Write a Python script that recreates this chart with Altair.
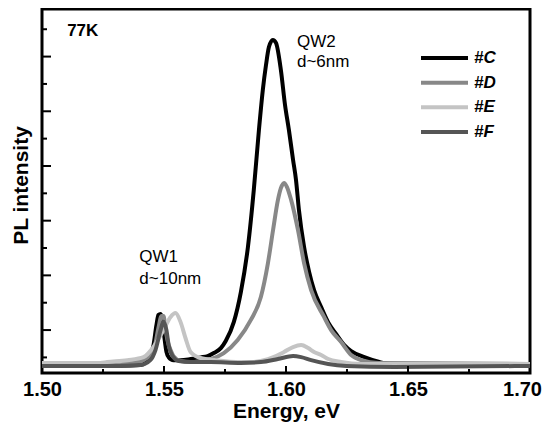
import altair as alt
import pandas as pd

samples = ["#C", "#D", "#E", "#F"]
colors = ["#000000", "#888888", "#c4c4c4", "#555555"]

c_energy = [1.5000, 1.5239, 1.5362, 1.5403, 1.5428, 1.5444, 1.5457, 1.5469, 1.5477, 1.5486,
            1.5494, 1.5502, 1.5510, 1.5519, 1.5539, 1.5568, 1.5609, 1.5650, 1.5679, 1.5704,
            1.5733, 1.5753, 1.5786, 1.5815, 1.5844, 1.5868, 1.5889, 1.5905, 1.5918, 1.5930,
            1.5946, 1.5959, 1.5979, 1.5996, 1.6012, 1.6029, 1.6041, 1.6053, 1.6074, 1.6095,
            1.6115, 1.6144, 1.6173, 1.6206, 1.6239, 1.6267, 1.6321, 1.6383, 1.6453, 1.7000]
c_int = [-0.31, -0.31, -0.30, -0.28, -0.17, 0.05, 0.45, 1.18, 1.55, 1.59,
         1.37, 0.71, 0.20, 0.01, -0.10, -0.10, -0.06, 0.00, 0.05, 0.16,
         0.34, 0.60, 1.29, 2.39, 4.04, 6.12, 8.31, 9.78, 10.69, 11.35,
         11.61, 11.50, 10.51, 9.23, 8.31, 7.22, 6.49, 5.39, 4.04, 3.12,
         2.46, 1.84, 1.28, 0.85, 0.45, 0.23, 0.01, -0.17, -0.28, -0.31]

d_energy = [1.5000, 1.5239, 1.5362, 1.5416, 1.5444, 1.5465, 1.5477, 1.5490, 1.5498, 1.5506,
            1.5514, 1.5527, 1.5539, 1.5568, 1.5609, 1.5650, 1.5691, 1.5745, 1.5802, 1.5856,
            1.5897, 1.5926, 1.5947, 1.5967, 1.5979, 1.5992, 1.6004, 1.6021, 1.6049, 1.6074,
            1.6103, 1.6156, 1.6185, 1.6226, 1.6267, 1.6309, 1.6379, 1.7000]
d_int = [-0.24, -0.24, -0.20, -0.10, 0.09, 0.53, 1.07, 1.51, 1.51, 1.07,
         0.64, 0.27, 0.05, -0.13, -0.17, -0.13, -0.06, 0.16, 0.64, 1.37,
         2.21, 3.45, 4.66, 5.76, 6.19, 6.38, 6.23, 5.76, 4.66, 3.45,
         2.46, 1.48, 1.00, 0.56, 0.09, -0.10, -0.20, -0.24]

e_energy = [1.5000, 1.5239, 1.5267, 1.5350, 1.5416, 1.5457, 1.5498, 1.5527, 1.5547, 1.5568,
            1.5588, 1.5609, 1.5650, 1.5712, 1.5815, 1.5856, 1.5926, 1.5959, 1.5992, 1.6029,
            1.6062, 1.6091, 1.6115, 1.6144, 1.6173, 1.6226, 1.6309, 1.7000]
e_int = [-0.20, -0.20, -0.17, -0.10, 0.01, 0.38, 1.00, 1.48, 1.62, 1.29,
         0.71, 0.20, -0.02, -0.10, -0.17, -0.17, -0.06, 0.05, 0.20, 0.38,
         0.45, 0.34, 0.20, 0.09, -0.06, -0.17, -0.24, -0.24]

f_energy = [1.5000, 1.5321, 1.5403, 1.5444, 1.5465, 1.5486, 1.5498, 1.5510, 1.5519, 1.5535,
            1.5560, 1.5609, 1.5691, 1.5815, 1.5897, 1.5967, 1.6029, 1.6062, 1.6103, 1.6173,
            1.6247, 1.6444, 1.7000]
f_int = [-0.31, -0.31, -0.28, -0.10, 0.27, 1.00, 1.30, 1.00, 0.45, 0.05,
         -0.13, -0.17, -0.17, -0.20, -0.17, -0.06, 0.05, 0.01, -0.10, -0.24,
         -0.31, -0.35, -0.31]

x_labels = [1.50, 1.55, 1.60, 1.65, 1.70]
x_major = [1.55, 1.60, 1.65]
x_minor = [1.525, 1.575, 1.625, 1.675]
y_major = [1, 3, 5, 7, 9, 11]
y_minor = [0, 2, 4, 6, 8, 10, 12]

bold_text = ["77K"]
bold_x = [1.5103]
bold_y = [11.93]
notes_text = ["QW2", "d~6nm", "QW1", "d~10nm"]
notes_x = [1.6045, 1.6045, 1.5399, 1.5399]
notes_y = [11.53, 10.80, 3.67, 2.87]

rows = []
for s, es, vs in zip(samples, [c_energy, d_energy, e_energy, f_energy],
                     [c_int, d_int, e_int, f_int]):
    for e, v in zip(es, vs):
        rows.append({"sample": s, "energy": e, "intensity": v})
df = pd.DataFrame(rows)

W, H = 488, 364
FONT = "Liberation Sans"
xscale = alt.Scale(domain=[1.50, 1.70], nice=False, zero=False)
yscale = alt.Scale(domain=[-0.57, 12.74], nice=False, zero=False)
cscale = alt.Scale(domain=samples, range=colors)

x_axis = alt.Axis(values=x_labels, format=".2f", title="Energy, eV",
                  ticks=False, tickSize=0, domain=False, grid=False,
                  labelPadding=22, labelBaseline="alphabetic",
                  labelOffset={"condition": {"test": "datum.value > 1.69", "value": -8},
                               "value": 0},
                  labelFont=FONT, labelFontSize=20, labelFontWeight="bold",
                  labelColor="black", labelFlush=False,
                  titleFont=FONT, titleFontSize=21, titleFontWeight="bold",
                  titleColor="black", titleY=44, titleBaseline="alphabetic")
y_axis = alt.Axis(title="PL intensity", labels=False, ticks=False, domain=False,
                  grid=False, titleFont=FONT, titleFontSize=21,
                  titleFontWeight="bold", titleColor="black",
                  titleX=-15, titleY=176, titleAngle=-90,
                  titleBaseline="alphabetic", titleAlign="center")

lines = alt.Chart(df).mark_line(strokeWidth=4, interpolate="monotone").encode(
    x=alt.X("energy:Q", scale=xscale, axis=x_axis),
    y=alt.Y("intensity:Q", scale=yscale, axis=y_axis),
    color=alt.Color("sample:N", scale=cscale, legend=None),
)

def tick_layer(vals, channel, length, width):
    d = pd.DataFrame({"v": vals})
    base = alt.Chart(d).mark_rule(color="black", strokeWidth=width)
    if channel == "x":
        return base.encode(x=alt.X("v:Q", scale=xscale, axis=x_axis),
                           y=alt.value(H), y2=alt.value(H - length))
    return base.encode(y=alt.Y("v:Q", scale=yscale, axis=y_axis),
                       x=alt.value(0), x2=alt.value(length))

def text_layer(texts, xs, ys, weight):
    d = pd.DataFrame({"t": texts, "x": xs, "y": ys})
    return alt.Chart(d).mark_text(
        align="left", baseline="middle", font=FONT, fontSize=17,
        fontWeight=weight, color="black"
    ).encode(
        x=alt.X("x:Q", scale=xscale, axis=x_axis),
        y=alt.Y("y:Q", scale=yscale, axis=y_axis),
        text="t:N",
    )

main = alt.layer(
    lines,
    tick_layer(x_major, "x", 7, 2), tick_layer(x_minor, "x", 4, 2),
    tick_layer(y_major, "y", 9, 2), tick_layer(y_minor, "y", 5, 2),
    text_layer(bold_text, bold_x, bold_y, "bold"),
    text_layer(notes_text, notes_x, notes_y, "normal"),
)

# manual legend (independent point scale for rows)
leg_df = pd.DataFrame({"sample": samples})
leg_y = alt.Y("sample:N", scale=alt.Scale(type="point", domain=samples,
                                          range=[49, 123], padding=0), axis=None)
leg_lines = alt.Chart(leg_df).mark_rule(strokeWidth=4).encode(
    y=leg_y, x=alt.value(379), x2=alt.value(426),
    color=alt.Color("sample:N", scale=cscale, legend=None),
)
leg_text = alt.Chart(leg_df).mark_text(
    align="left", baseline="middle", font=FONT, fontSize=17,
    fontStyle="italic", fontWeight="bold", color="black"
).encode(y=leg_y, x=alt.value(432), text="sample:N")
legend = alt.layer(leg_lines, leg_text)

chart = alt.layer(main, legend).resolve_scale(y="independent").properties(
    width=W, height=H,
    autosize=alt.AutoSizeParams(type="none"),
    padding={"left": 34, "top": 1, "right": 12, "bottom": 50},
).configure_view(stroke="black", strokeWidth=3)

chart.save("out.html", embed_options={"renderer": "svg", "actions": False})
